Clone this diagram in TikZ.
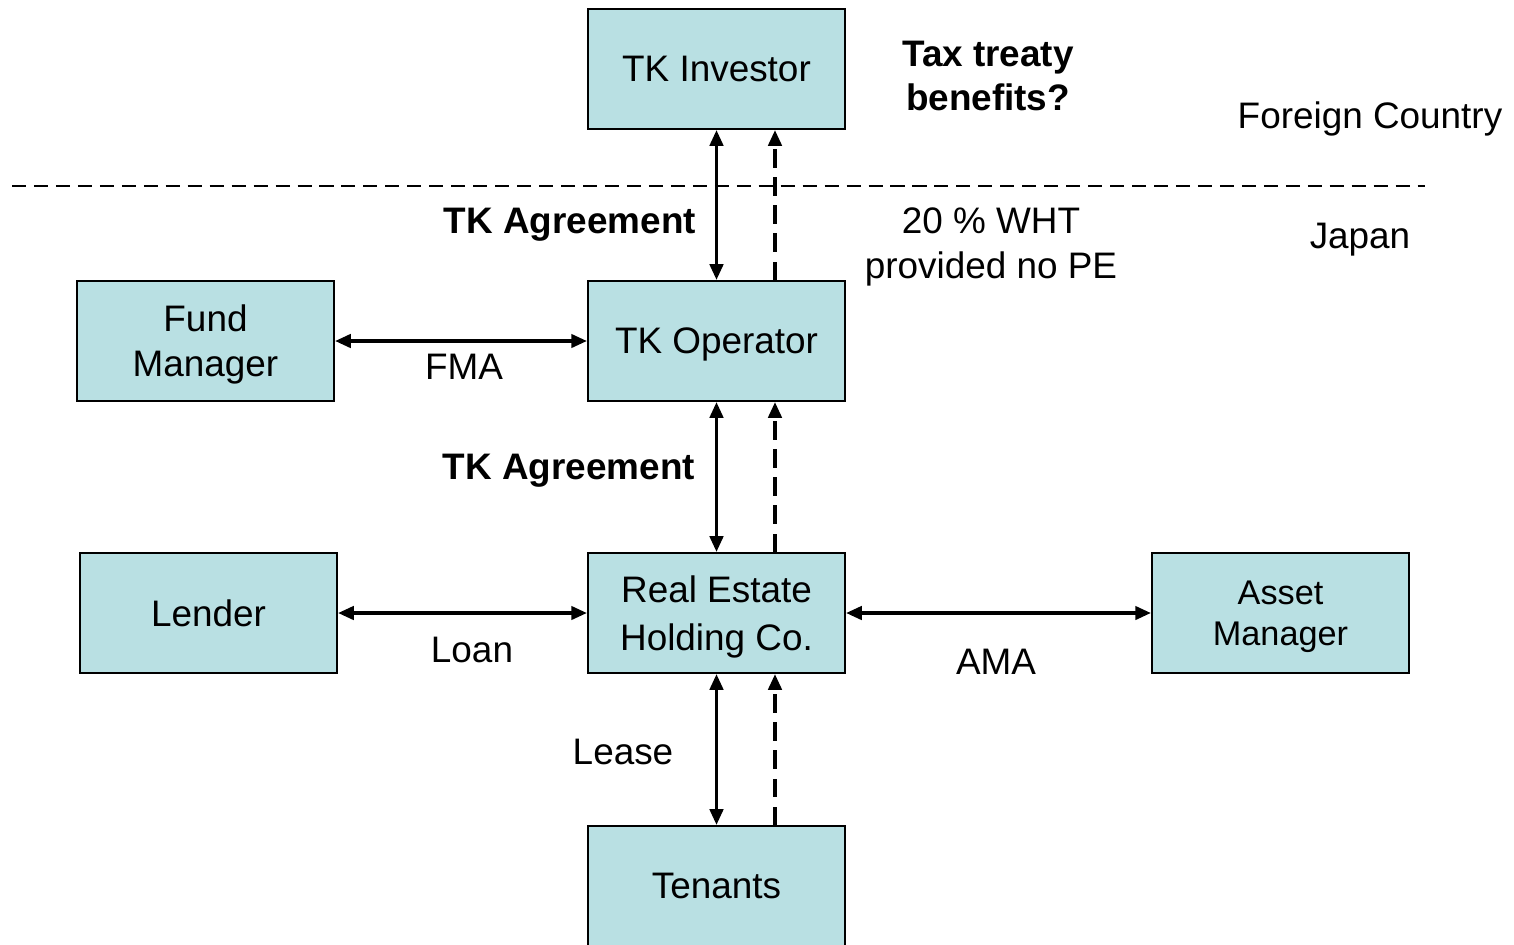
\documentclass[tikz,border=0pt]{standalone}
\usepackage{fontspec}
\setmainfont{Liberation Sans}
\usetikzlibrary{arrows.meta,positioning}
\definecolor{BoxFill}{RGB}{185,224,227}

\begin{document}
\begin{tikzpicture}[
        x=0.02cm,y=-0.02cm,
        BoxCfg/.style={
            draw,
            fill=BoxFill,
            line width=1.1pt,
            minimum width=5.14cm,
            minimum height=2.4cm,
            text depth=0pt,
            align=center,
            font=\fontsize{21}{25.5}\selectfont
        },
        TextCfg/.style={
            inner sep=0pt,
            align=center,
            font=\fontsize{21}{25.5}\selectfont
        },
        BothCfg/.style={
            line width=2.1pt,
            {Triangle[length=9pt,width=7.5pt]}-{Triangle[length=9pt,width=7.5pt]}
        },
        UpCfg/.style={
            line width=2.1pt,
            dash pattern=on 10.5pt off 5.5pt,
            -{Triangle[length=9pt,width=7.5pt]}
        }
    ]
    \useasboundingbox (0,0) rectangle (1514,944);
    
    % Boxes
    \node[BoxCfg] (Investor) at (716.5,69) {TK Investor};
    \node[BoxCfg] (Operator) at (716.5,341) {TK Operator};
    \node[BoxCfg] (Fund) at (205.5,341) {Fund\\Manager};
    \node[BoxCfg] (Lender) at (208.5,613) {Lender};
    \node[BoxCfg,font=\fontsize{21}{27.5}\selectfont] (Holding) at (716.5,613) {Real Estate\\Holding Co.};
    \node[BoxCfg,font=\fontsize{19.5}{23.5}\selectfont] (Asset) at (1280.5,613) {Asset\\Manager};
    \node[BoxCfg] (Tenants) at (716.5,886) {Tenants};
    
    % Border
    \coordinate (BorderL) at (12,186);
    \coordinate (BorderR) at (1425,186);
    \draw[line width=0.9pt,dash pattern=on 8pt off 4.5pt] (BorderL)--(BorderR);
    
    % Vertical links
    \draw[BothCfg] (Investor.south)--(Operator.north);
    \draw[UpCfg] ([xshift=1.17cm]Operator.north)--([xshift=1.17cm]Investor.south);
    \draw[BothCfg] (Operator.south)--(Holding.north);
    \draw[UpCfg] ([xshift=1.17cm]Holding.north)--([xshift=1.17cm]Operator.south);
    \draw[BothCfg] (Holding.south)--(Tenants.north);
    \draw[UpCfg] ([xshift=1.17cm]Tenants.north)--([xshift=1.17cm]Holding.south);
    
    % Horizontal links
    \draw[BothCfg] (Fund.east)--(Operator.west);
    \draw[BothCfg] (Lender.east)--(Holding.west);
    \draw[BothCfg] (Holding.east)--(Asset.west);
    
    % Labels
    \node[TextCfg,font=\fontsize{21}{25.5}\selectfont\bfseries] (Treaty) at (988,76) {Tax treaty\\benefits?};
    \node[TextCfg] (Foreign) at (1370,119) {Foreign Country};
    \node[TextCfg] (Japan) at (1360,240) {Japan};
    \node[TextCfg,font=\fontsize{21}{25.5}\selectfont\bfseries] (AgreeTop) at (570,225) {TK Agreement};
    \node[TextCfg] (Wht) at (991,247) {20 \% WHT\\provided no PE};
    \node[TextCfg] (Fma) at (464,367) {FMA};
    \node[TextCfg,font=\fontsize{21}{25.5}\selectfont\bfseries] (AgreeMid) at (569,471) {TK Agreement};
    \node[TextCfg] (Loan) at (472,650) {Loan};
    \node[TextCfg] (Ama) at (996,662) {AMA};
    \node[TextCfg] (Lease) at (623,752) {Lease};
    
\end{tikzpicture}
\end{document}
